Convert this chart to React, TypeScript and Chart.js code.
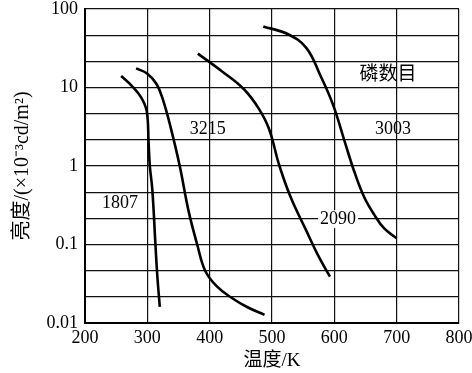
import React, { useEffect, useRef } from "react";
import { Chart, registerables } from "chart.js";

Chart.register(...registerables);

const xTickValues = [200, 300, 400, 500, 600, 700, 800];
const yGridValues = [0.01, 0.0215, 0.0464, 0.1, 0.215, 0.464, 1, 2.15, 4.64, 10, 21.5, 46.4, 100];
const yLabeledValues = [0.01, 0.1, 1, 10, 100];

const s1807x = [258, 275, 290, 299, 302, 304, 308, 313, 316, 320];
const s1807y = [14, 10.5, 7.5, 5.0, 2, 1, 0.5, 0.1, 0.04, 0.016];

const s3215x = [282, 300, 315, 325, 337, 352, 366, 380, 393, 412, 435, 460, 488];
const s3215y = [17.5, 15, 11, 7, 3.2, 1, 0.27, 0.1, 0.046, 0.029, 0.021, 0.016, 0.0127];

const s2090x = [381, 420, 455, 478, 495, 512, 530, 555, 575, 593];
const s2090y = [27, 16, 9.5, 5.5, 3, 1, 0.4, 0.15, 0.07, 0.039];

const s3003x = [486, 525, 555, 578, 598, 617, 632, 648, 664, 680, 700];
const s3003y = [60, 48, 32, 14, 6, 2, 0.85, 0.4, 0.24, 0.16, 0.12];

const noteTexts = ["1807", "3215", "3003", "磷数目", "2090"];
const noteX = [256, 397, 694, 686, 606];
const noteY = [0.34, 2.94, 2.94, 14.4, 0.21];
const noteBoxed = [false, false, false, false, true];

const SERIF = "'Liberation Serif', 'Times New Roman', 'Noto Sans CJK SC', serif";

function pts(xs: number[], ys: number[]) {
  return xs.map((x, i) => ({ x, y: ys[i] }));
}

export default function App() {
  const ref = useRef<HTMLCanvasElement | null>(null);
  useEffect(() => {
    document.body.style.margin = "0";
    const canvas = ref.current;
    if (!canvas) return;
    const lineDs = (xs: number[], ys: number[]) => ({
      data: pts(xs, ys),
      showLine: true,
      borderColor: "#000",
      borderWidth: 2.6,
      pointRadius: 0,
      tension: 0.4,
      fill: false,
    });
    const notes = {
      id: "notes",
      afterDatasetsDraw(chart: any) {
        const ctx = chart.ctx;
        const xs = chart.scales.x;
        const ys = chart.scales.y;
        ctx.save();
        ctx.textAlign = "center";
        ctx.textBaseline = "middle";
        noteTexts.forEach((t, i) => {
          ctx.font = (/^\d+$/.test(t) ? "18px " : "19px ") + SERIF;
          const px = xs.getPixelForValue(noteX[i]);
          const py = ys.getPixelForValue(noteY[i]);
          if (noteBoxed[i]) {
            const w = ctx.measureText(t).width;
            ctx.fillStyle = "#fff";
            ctx.fillRect(px - w / 2 - 2, py - 9, w + 4, 18);
          }
          ctx.fillStyle = "#000";
          ctx.fillText(t, px, py);
        });
        ctx.restore();
      },
    };
    const chart = new Chart(canvas, {
      type: "scatter",
      data: {
        datasets: [
          lineDs(s1807x, s1807y),
          lineDs(s3215x, s3215y),
          lineDs(s2090x, s2090y),
          lineDs(s3003x, s3003y),
        ],
      },
      options: {
        responsive: false,
        animation: false,
        layout: { padding: { left: 0, top: 9, right: 13, bottom: 0 } },
        plugins: { legend: { display: false }, tooltip: { enabled: false } },
        scales: {
          x: {
            type: "linear",
            min: 200,
            max: 800,
            afterBuildTicks: (axis: any) => {
              axis.ticks = xTickValues.map((v) => ({ value: v }));
            },
            afterFit: (axis: any) => {
              axis.height = 50;
              axis.paddingLeft = 0;
              axis.paddingRight = 0;
            },
            ticks: {
              color: "#000",
              font: { family: SERIF, size: 18, lineHeight: 1 },
              padding: 6,
              maxRotation: 0,
              autoSkip: false,
            },
            grid: { color: "#111", lineWidth: 1.2, drawTicks: false },
            border: { color: "#000", width: 2 },
            title: {
              display: true,
              text: "温度/K",
              color: "#000",
              font: { family: SERIF, size: 19, lineHeight: 1 },
              padding: { top: 0, bottom: 2 },
            },
          },
          y: {
            type: "logarithmic",
            min: 0.01,
            max: 100,
            afterBuildTicks: (axis: any) => {
              axis.ticks = yGridValues.map((v) => ({ value: v }));
            },
            afterFit: (axis: any) => {
              axis.width = 85;
              axis.paddingTop = 0;
              axis.paddingBottom = 0;
            },
            ticks: {
              color: "#000",
              font: { family: SERIF, size: 18, lineHeight: 1 },
              padding: 7,
              autoSkip: false,
              callback: (v: any) => (yLabeledValues.includes(Number(v)) ? String(v) : ""),
            },
            grid: { color: "#111", lineWidth: 1.2, drawTicks: false },
            border: { color: "#000", width: 2 },
            title: {
              display: true,
              text: "亮度/(×10⁻³cd/m²)",
              color: "#000",
              font: { family: SERIF, size: 20, lineHeight: 1 },
              padding: { top: 13, bottom: 0 },
            },
          },
        },
      },
      plugins: [notes],
    });
    return () => chart.destroy();
  }, []);
  return <canvas ref={ref} width={472} height={373} style={{ display: "block" }} />;
}
